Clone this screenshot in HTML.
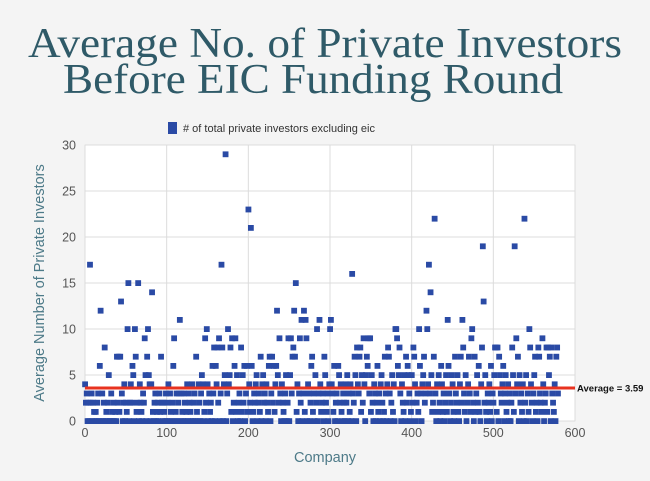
<!DOCTYPE html>
<html><head><meta charset="utf-8"><style>
html,body{margin:0;padding:0;background:#f4f4f4;}
svg{display:block;font-family:"Liberation Sans",sans-serif;}
</style></head><body>
<svg id="chart" width="650" height="481" viewBox="0 0 650 481" xmlns="http://www.w3.org/2000/svg">
<rect width="650" height="481" fill="#f4f4f4"/>
<text x="28" y="57" font-family="Liberation Serif,serif" font-size="42" fill="#2f5a68" textLength="594" lengthAdjust="spacingAndGlyphs">Average No. of Private Investors</text>
<text x="63" y="93" font-family="Liberation Serif,serif" font-size="42" fill="#2f5a68" textLength="500" lengthAdjust="spacingAndGlyphs">Before EIC Funding Round</text>
<g>
<rect x="168" y="122" width="9" height="12" fill="#2a4aa5"/>
<text x="183" y="132" font-size="11" fill="#333"># of total private investors excluding eic</text>
</g>
<rect x="85" y="145" width="490" height="276" fill="#fff" stroke="#e2e2e2"/>
<g id="grid"></g>
<g id="marks"></g>
<g id="avg"></g>
<text transform="translate(44,283) rotate(-90)" text-anchor="middle" font-size="14.5" fill="#4d7a88">Average Number of Private Investors</text>
<text x="325" y="462" text-anchor="middle" font-size="14.5" fill="#4d7a88">Company</text>
</svg>
<script>
const xTicks=[0,100,200,300,400,500,600];
const yTicks=[0,5,10,15,20,25,30];
const average=3.59;
const averageLabel="Average = 3.59";
const investors=[
4,2,3,0,2,0,17,2,3,0,2,1,0,1,0,2,3,0,6,12,
0,3,0,2,8,0,1,0,2,5,0,0,3,1,0,2,0,1,0,7,
2,7,1,7,13,3,0,2,4,0,2,1,10,15,0,2,4,2,6,5,
0,10,7,1,2,15,0,4,2,1,0,3,2,9,5,0,7,10,5,4,
0,4,14,1,0,2,3,0,1,2,0,3,1,7,2,0,2,1,0,3,
0,2,4,0,3,1,0,2,6,9,0,1,3,0,2,3,11,0,3,1,
0,3,2,0,1,4,0,3,2,1,0,4,0,2,3,0,7,1,0,4,
2,0,3,5,4,0,1,9,2,10,4,0,3,1,2,0,6,3,8,0,
6,4,8,2,9,0,3,17,8,0,4,5,29,0,3,10,4,5,8,1,
9,0,2,6,9,1,5,0,2,3,0,8,1,5,2,6,0,3,6,1,
23,4,2,21,6,0,1,3,2,4,5,0,2,3,1,7,0,4,5,2,
3,0,4,2,1,6,7,0,3,7,2,6,1,4,6,12,5,2,9,3,
0,4,2,1,0,3,5,0,2,9,0,5,9,3,7,8,12,7,15,1,
4,0,3,9,2,11,0,3,12,1,11,9,0,4,3,0,2,6,7,1,
3,0,5,2,10,0,3,11,4,1,2,3,0,7,5,2,1,3,0,4,
10,11,4,3,1,6,0,2,3,0,6,5,2,4,1,0,3,2,0,4,
2,5,0,3,1,4,0,16,3,2,7,5,0,8,4,3,7,8,1,5,
2,9,4,0,5,7,6,9,3,9,1,5,2,0,4,3,0,2,6,1,
3,0,4,5,2,0,1,7,3,0,4,8,7,3,0,2,5,1,4,0,
10,10,9,6,5,8,3,0,4,2,1,5,0,7,2,6,5,3,0,1,
5,2,8,7,4,0,2,3,1,10,6,3,0,4,5,7,2,3,12,10,
4,17,3,14,5,1,2,7,22,3,0,4,1,5,2,0,6,4,1,3,
0,2,5,1,11,6,3,0,2,5,4,1,0,7,3,2,5,1,0,4,
7,2,11,8,3,1,5,0,2,4,7,3,1,9,10,2,0,7,1,3,
5,2,6,1,0,4,8,19,13,2,5,1,0,3,2,4,1,6,0,3,
2,5,8,8,1,8,0,7,5,3,2,4,6,0,3,5,1,2,4,0,
3,0,2,8,5,1,19,3,9,4,7,0,5,2,3,1,4,0,22,2,
5,0,3,1,10,8,4,2,0,3,5,7,1,2,0,8,7,3,2,1,
9,4,0,2,3,8,1,8,5,7,0,8,3,2,1,4,0,7,8,3
];
const NS="http://www.w3.org/2000/svg";
const X0=85,X1=575,Y0=421,Y1=145;
function xs(v){return X0+(v-0)/(600-0)*(X1-X0);}
function ys(v){return Y0-(v-0)/(30-0)*(Y0-Y1);}
function mk(tag,attrs,parent){const e=document.createElementNS(NS,tag);for(const k in attrs)e.setAttribute(k,attrs[k]);parent.appendChild(e);return e;}
const grid=document.getElementById('grid');
xTicks.forEach(t=>{
  const l=mk('line',{x1:xs(t),x2:xs(t),y1:Y1,y2:Y0,stroke:'#dcdcdc'},grid);
  
  
  const tx=mk('text',{x:xs(t),y:437,'text-anchor':'middle','font-size':'12.5',fill:'#555'},grid);
  
  
  tx.textContent=t;
});
yTicks.forEach(t=>{
  const l=mk('line',{x1:X0,x2:X1,y1:ys(t),y2:ys(t),stroke:'#dcdcdc'},grid);
  
  
  const tx=mk('text',{x:76,y:ys(t)+4.5,'text-anchor':'end','font-size':'12.5',fill:'#555'},grid);
  
  
  tx.textContent=t;
});
const marks=document.getElementById('marks');
investors.forEach((v,i)=>{
  const r=mk('rect',{x:xs(i)-2.8,y:ys(v)-2.8,width:5.8,height:5.8,fill:'#2a4aa5'},marks);
  
  
});
const avg=document.getElementById('avg');
const al=mk('line',{x1:X0,x2:X1,y1:ys(average),y2:ys(average),stroke:'#e8321f','stroke-width':3},avg);


const at=mk('text',{x:X1+2,y:ys(average)+3.5,'font-size':'9.5','font-weight':'bold',fill:'#111'},avg);


at.textContent=averageLabel;
</script>
</body></html>
